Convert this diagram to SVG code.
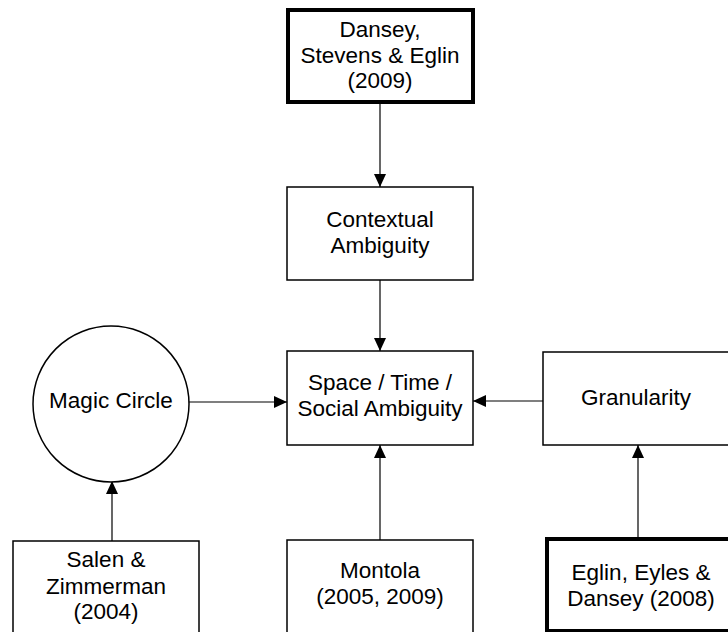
<svg xmlns="http://www.w3.org/2000/svg" width="728" height="632" viewBox="0 0 728 632">
  <style>
    .box { fill: #ffffff; stroke: #000000; stroke-width: 1.5; }
    .thick { fill: #ffffff; stroke: #000000; stroke-width: 4; }
    .lbl { font-family: "Liberation Sans", Arial, sans-serif; font-size: 22.5px; fill: #000000; text-anchor: middle; }
    .conn { fill: none; stroke: #000000; stroke-width: 1.2; marker-end: url(#arrow); }
  </style>
  <defs>
    <marker id="arrow" markerUnits="userSpaceOnUse" markerWidth="13" markerHeight="12" refX="13" refY="6" orient="auto">
      <path d="M0,0 L13,6 L0,12 Z" fill="#000000"/>
    </marker>
  </defs>
  <rect width="728" height="632" fill="#ffffff"/>

  <g id="connectors">
    <line class="conn" x1="380" y1="104" x2="380" y2="187"/>
    <line class="conn" x1="380" y1="280" x2="380" y2="351"/>
    <line class="conn" x1="189" y1="402" x2="287" y2="402"/>
    <line class="conn" x1="543" y1="401" x2="473" y2="401"/>
    <line class="conn" x1="380" y1="540" x2="380" y2="445"/>
    <line class="conn" x1="112" y1="541" x2="112" y2="481"/>
    <line class="conn" x1="638" y1="537" x2="638" y2="445"/>
  </g>

  <g id="dansey-stevens-eglin">
    <rect class="thick" x="288" y="10" width="185" height="92"/>
    <text class="lbl" x="380" y="37">Dansey,</text>
    <text class="lbl" x="380" y="63">Stevens &amp; Eglin</text>
    <text class="lbl" x="380" y="88">(2009)</text>
  </g>

  <g id="contextual-ambiguity">
    <rect class="box" x="287" y="187" width="186" height="93"/>
    <text class="lbl" x="380" y="227">Contextual</text>
    <text class="lbl" x="380" y="253">Ambiguity</text>
  </g>

  <g id="space-time-social">
    <rect class="box" x="287" y="351" width="186" height="94"/>
    <text class="lbl" x="380" y="390">Space / Time /</text>
    <text class="lbl" x="380" y="416">Social Ambiguity</text>
  </g>

  <g id="magic-circle">
    <circle class="box" cx="111" cy="404" r="78"/>
    <text class="lbl" x="111" y="408">Magic Circle</text>
  </g>

  <g id="granularity">
    <rect class="box" x="543" y="352" width="190" height="93"/>
    <text class="lbl" x="636" y="405">Granularity</text>
  </g>

  <g id="salen-zimmerman">
    <rect class="box" x="13" y="541" width="186" height="100"/>
    <text class="lbl" x="106" y="567">Salen &amp;</text>
    <text class="lbl" x="106" y="594">Zimmerman</text>
    <text class="lbl" x="106" y="619">(2004)</text>
  </g>

  <g id="montola">
    <rect class="box" x="287" y="540" width="186" height="100"/>
    <text class="lbl" x="380" y="578">Montola</text>
    <text class="lbl" x="380" y="604">(2005, 2009)</text>
  </g>

  <g id="eglin-eyles-dansey">
    <rect class="thick" x="547" y="539" width="190" height="92"/>
    <text class="lbl" x="641" y="580">Eglin, Eyles &amp;</text>
    <text class="lbl" x="641" y="606">Dansey (2008)</text>
  </g>
</svg>
